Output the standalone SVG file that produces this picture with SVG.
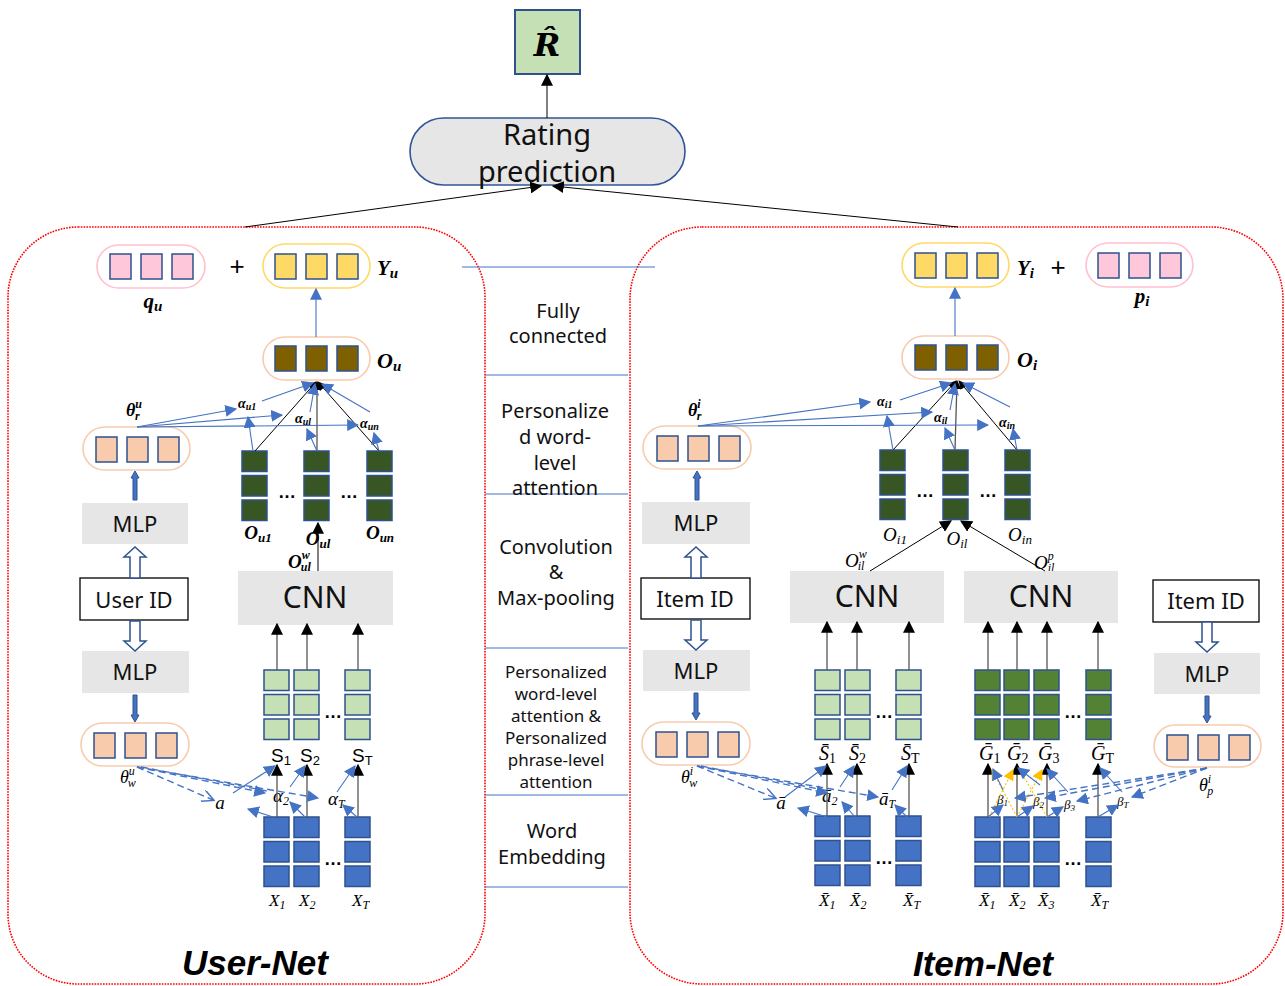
<svg xmlns="http://www.w3.org/2000/svg" xmlns:xlink="http://www.w3.org/1999/xlink" width="1285" height="986" viewBox="0 0 1285 986">
<style>
.sq{stroke:#2f528f;stroke-width:1.5}
.pill{fill:#fff;stroke-width:1.6}
.gray{fill:#e7e6e6}
.t{font-family:"Noto Sans","Open Sans",sans-serif;fill:#111}
.m{font-family:"Liberation Serif","DejaVu Serif",serif;font-style:italic;font-weight:bold;fill:#000}
.mr{font-family:"Liberation Serif","DejaVu Serif",serif;font-style:italic;fill:#000}
.s{font-family:"Liberation Sans",Arial,sans-serif;fill:#000}
.bl{stroke:#4472c4;stroke-width:1.1;fill:none}
.bk{stroke:#000;stroke-width:1;fill:none}
.gk{stroke:#555;stroke-width:1.3;fill:none}
.ds{stroke:#4472c4;stroke-width:1.4;fill:none;stroke-dasharray:7 4}
.yd{stroke:#ffc000;stroke-width:1.1;fill:none;stroke-dasharray:2 2}
.sep{stroke:#4472c4;stroke-width:1}
.red{fill:none;stroke:#ff0000;stroke-width:1.6;stroke-dasharray:1.6 1.2}
.dots{font-family:"Liberation Sans",sans-serif;font-weight:bold;font-size:18px;fill:#000}
.ba{fill:#4472c4;stroke:#2f528f;stroke-width:1}
.ha{fill:#fff;stroke:#2f528f;stroke-width:1.5}
</style>
<defs>
<marker id="ak" viewBox="0 0 10 10" refX="9" refY="5" markerWidth="9" markerHeight="9" markerUnits="userSpaceOnUse" orient="auto"><path d="M0,0 L10,5 L0,10 z" fill="#000"/></marker>
<marker id="akb" viewBox="0 0 10 10" refX="9" refY="5" markerWidth="12" markerHeight="12" markerUnits="userSpaceOnUse" orient="auto"><path d="M0,0 L10,5 L0,10 z" fill="#000"/></marker>
<marker id="ab" viewBox="0 0 10 10" refX="9" refY="5" markerWidth="12" markerHeight="12" markerUnits="userSpaceOnUse" orient="auto"><path d="M0,0 L10,5 L0,10 z" fill="#4472c4"/></marker>
<marker id="ao" viewBox="0 0 10 10" refX="9" refY="5" markerWidth="14" markerHeight="12" markerUnits="userSpaceOnUse" orient="auto"><path d="M0,0 L10,5 L0,10" fill="none" stroke="#4472c4" stroke-width="1.2"/></marker>
<marker id="ay" viewBox="0 0 10 10" refX="9" refY="5" markerWidth="11" markerHeight="11" markerUnits="userSpaceOnUse" orient="auto"><path d="M0,0 L10,5 L0,10 z" fill="#ffc000"/></marker>
<g id="col"><rect class="sq" x="0" y="0" width="25" height="20.5"/><rect class="sq" x="0" y="24.5" width="25" height="20.5"/><rect class="sq" x="0" y="49" width="25" height="20.5"/></g>
<g id="vec"><rect class="sq" x="0" y="0" width="21" height="25"/><rect class="sq" x="31" y="0" width="21" height="25"/><rect class="sq" x="62" y="0" width="21" height="25"/></g>
</defs>

<!-- containers -->
<rect class="red" x="8" y="227" width="477" height="757" rx="70" ry="70"/>
<rect class="red" x="630" y="227" width="653" height="757" rx="72" ry="72"/>
<g id="separators">
<line class="sep" x1="462" y1="267" x2="655" y2="267"/>
<line class="sep" x1="485" y1="375" x2="628" y2="375"/>
<line class="sep" x1="485" y1="494" x2="628" y2="494"/>
<line class="sep" x1="485" y1="648" x2="628" y2="648"/>
<line class="sep" x1="485" y1="795" x2="628" y2="795"/>
<line class="sep" x1="485" y1="887" x2="628" y2="887"/>
</g>
<g id="layer-labels" class="t" text-anchor="middle">
<text x="558" y="318" font-size="20">Fully</text>
<text x="558" y="343" font-size="20">connected</text>
<text x="555" y="418" font-size="20">Personalize</text>
<text x="555" y="444" font-size="20">d word-</text>
<text x="555" y="470" font-size="20">level</text>
<text x="555" y="495" font-size="20">attention</text>
<text x="556" y="554" font-size="20">Convolution</text>
<text x="556" y="579" font-size="20">&amp;</text>
<text x="556" y="605" font-size="20">Max-pooling</text>
<text x="556" y="678" font-size="17">Personalized</text>
<text x="556" y="700" font-size="17">word-level</text>
<text x="556" y="722" font-size="17">attention &amp;</text>
<text x="556" y="744" font-size="17">Personalized</text>
<text x="556" y="766" font-size="17">phrase-level</text>
<text x="556" y="788" font-size="17">attention</text>
<text x="552" y="838" font-size="20">Word</text>
<text x="552" y="864" font-size="20">Embedding</text>
</g>

<!-- top -->
<g id="rhat">
<rect x="515" y="10" width="65" height="64" fill="#c5e0b4" stroke="#2f528f" stroke-width="2"/>
<text x="547" y="56" text-anchor="middle" font-family="DejaVu Serif,serif" font-style="italic" font-weight="bold" font-size="32">R̂</text>
</g>
<g id="rating">
<rect x="410" y="118" width="275" height="67" rx="33.5" fill="#e7e6e6" stroke="#2f5597" stroke-width="1.6"/>
<text class="t" x="547" y="145" text-anchor="middle" font-size="29">Rating</text>
<text class="t" x="547" y="182" text-anchor="middle" font-size="29">prediction</text>
</g>

<!-- USER NET -->
<g id="qu"><rect class="pill" x="97" y="245" width="108" height="43" rx="21.5" stroke="#ffc0d0"/><use href="#vec" x="110" y="254" fill="#ffc7da"/></g>
<text class="m" x="153" y="308" text-anchor="middle" font-size="21">q<tspan font-size="15" dy="3">u</tspan></text>
<text class="s" x="237" y="275" text-anchor="middle" font-size="26">+</text>
<g id="Yu"><rect class="pill" x="263" y="244" width="107" height="44" rx="22" stroke="#ffd966"/><use href="#vec" x="275" y="254" fill="#ffd966"/></g>
<text class="m" x="377" y="275" font-size="21">Y<tspan font-size="15" dy="3">u</tspan></text>
<text class="m" x="377" y="368" font-size="22">O<tspan font-size="15" dy="3">u</tspan></text>
<g id="Ou"><rect class="pill" x="263" y="337" width="107" height="43" rx="21.5" stroke="#f8cbad"/><use href="#vec" x="275" y="346" fill="#7f6000"/></g>
<text class="m" x="126" y="416" font-size="18">θ<tspan font-size="12" dy="-8">u</tspan><tspan font-size="12" dx="-7" dy="12">r</tspan></text>
<g id="thr-u"><rect class="pill" x="83" y="427" width="107" height="43" rx="21.5" stroke="#f8cbad"/><use href="#vec" x="96" y="437" fill="#f8cbad"/></g>
<g id="mlp-u1"><rect class="gray" x="82" y="503" width="106" height="41"/><text class="t" x="135" y="532" text-anchor="middle" font-size="22">MLP</text></g>
<g id="userid"><rect x="80" y="578" width="108" height="42" fill="#fff" stroke="#000" stroke-width="1.3"/><text class="t" x="134" y="608" text-anchor="middle" font-size="22">User ID</text></g>
<g id="mlp-u2"><rect class="gray" x="82" y="651" width="107" height="42"/><text class="t" x="135" y="680" text-anchor="middle" font-size="22">MLP</text></g>
<g id="thw-u"><rect class="pill" x="81" y="723" width="108" height="43" rx="21.5" stroke="#f8cbad"/><use href="#vec" x="94" y="733" fill="#f8cbad"/></g>
<text class="mr" x="120" y="783" font-size="18">θ<tspan font-size="12" dy="-8">u</tspan><tspan font-size="12" dx="-7" dy="12">w</tspan></text>

<g id="Ocols-u">
<use href="#col" x="242" y="451" fill="#375623"/>
<use href="#col" x="304" y="451" fill="#375623"/>
<use href="#col" x="367" y="451" fill="#375623"/>
<text class="dots" x="287" y="498" text-anchor="middle">…</text>
<text class="dots" x="349" y="498" text-anchor="middle">…</text>
</g>
<text class="m" x="258" y="539" text-anchor="middle" font-size="19">O<tspan font-size="13" dy="3">u1</tspan></text>
<text class="m" x="318" y="545" text-anchor="middle" font-size="19">O<tspan font-size="13" dy="3">ul</tspan></text>
<text class="m" x="380" y="539" text-anchor="middle" font-size="19">O<tspan font-size="13" dy="3">un</tspan></text>
<text class="m" x="288" y="568" font-size="19">O<tspan font-size="12" dy="-9">w</tspan><tspan font-size="12" dx="-9" dy="12">ul</tspan></text>
<text class="m" x="238" y="408" font-size="14">α<tspan font-size="10" dy="2">u1</tspan></text>
<text class="m" x="295" y="423" font-size="14">α<tspan font-size="10" dy="2">ul</tspan></text>
<text class="m" x="360" y="428" font-size="14">α<tspan font-size="10" dy="2">un</tspan></text>

<g id="cnn-u"><rect class="gray" x="238" y="571" width="155" height="54"/><text class="t" x="315" y="608" text-anchor="middle" font-size="30">CNN</text></g>
<g id="Scols-u">
<use href="#col" x="264" y="670" fill="#c5e0b4"/>
<use href="#col" x="294" y="670" fill="#c5e0b4"/>
<use href="#col" x="345" y="670" fill="#c5e0b4"/>
<text class="dots" x="333" y="718" text-anchor="middle">…</text>
</g>
<text class="s" x="271" y="762" font-size="19">S<tspan font-size="13" dy="3">1</tspan></text>
<text class="s" x="300" y="762" font-size="19">S<tspan font-size="13" dy="3">2</tspan></text>
<text class="s" x="352" y="762" font-size="19">S<tspan font-size="13" dy="3">T</tspan></text>
<g id="Xcols-u">
<use href="#col" x="264" y="817" fill="#4472c4"/>
<use href="#col" x="294" y="817" fill="#4472c4"/>
<use href="#col" x="345" y="817" fill="#4472c4"/>
<text class="dots" x="333" y="865" text-anchor="middle">…</text>
</g>
<text class="mr" x="269" y="906" font-size="17">X<tspan font-size="12" dy="3">1</tspan></text>
<text class="mr" x="299" y="906" font-size="17">X<tspan font-size="12" dy="3">2</tspan></text>
<text class="mr" x="352" y="906" font-size="17">X<tspan font-size="12" dy="3">T</tspan></text>
<text class="mr" x="220" y="809" text-anchor="middle" font-size="19">a</text>
<text class="mr" x="273" y="802" font-size="19">α<tspan font-size="12" dy="3">2</tspan></text>
<text class="mr" x="328" y="805" font-size="19">α<tspan font-size="12" dy="3">T</tspan></text>

<!-- ITEM NET -->
<g id="Yi"><rect class="pill" x="902" y="243" width="107" height="44" rx="22" stroke="#ffd966"/><use href="#vec" x="915" y="253" fill="#ffd966"/></g>
<text class="m" x="1017" y="275" font-size="21">Y<tspan font-size="15" dy="3">i</tspan></text>
<text class="s" x="1058" y="276" text-anchor="middle" font-size="26">+</text>
<g id="pi"><rect class="pill" x="1086" y="243" width="107" height="44" rx="22" stroke="#ffc0d0"/><use href="#vec" x="1098" y="253" fill="#ffc7da"/></g>
<text class="m" x="1142" y="303" text-anchor="middle" font-size="21">p<tspan font-size="15" dy="3">i</tspan></text>
<g id="Oi"><rect class="pill" x="902" y="336" width="107" height="43" rx="21.5" stroke="#f8cbad"/><use href="#vec" x="915" y="345" fill="#7f6000"/></g>
<text class="m" x="1017" y="367" font-size="22">O<tspan font-size="15" dy="3">i</tspan></text>
<text class="m" x="688" y="416" font-size="18">θ<tspan font-size="12" dy="-8">i</tspan><tspan font-size="12" dx="-4" dy="12">r</tspan></text>
<g id="thr-i"><rect class="pill" x="643" y="426" width="108" height="43" rx="21.5" stroke="#f8cbad"/><use href="#vec" x="657" y="436" fill="#f8cbad"/></g>
<g id="mlp-i1"><rect class="gray" x="642" y="502" width="108" height="42"/><text class="t" x="696" y="531" text-anchor="middle" font-size="22">MLP</text></g>
<g id="itemid1"><rect x="641" y="578" width="109" height="41" fill="#fff" stroke="#000" stroke-width="1.3"/><text class="t" x="695" y="607" text-anchor="middle" font-size="22">Item ID</text></g>
<g id="mlp-i2"><rect class="gray" x="643" y="650" width="107" height="41"/><text class="t" x="696" y="679" text-anchor="middle" font-size="22">MLP</text></g>
<g id="thw-i"><rect class="pill" x="642" y="722" width="108" height="43" rx="21.5" stroke="#f8cbad"/><use href="#vec" x="656" y="732" fill="#f8cbad"/></g>
<text class="mr" x="681" y="783" font-size="18">θ<tspan font-size="12" dy="-8">i</tspan><tspan font-size="12" dx="-4" dy="12">w</tspan></text>

<g id="Ocols-i">
<use href="#col" x="880" y="450" fill="#375623"/>
<use href="#col" x="943" y="450" fill="#375623"/>
<use href="#col" x="1005" y="450" fill="#375623"/>
<text class="dots" x="925" y="497" text-anchor="middle">…</text>
<text class="dots" x="988" y="497" text-anchor="middle">…</text>
</g>
<text class="mr" x="895" y="541" text-anchor="middle" font-size="19">O<tspan font-size="13" dy="3">i1</tspan></text>
<text class="mr" x="957" y="545" text-anchor="middle" font-size="19">O<tspan font-size="13" dy="3">il</tspan></text>
<text class="mr" x="1020" y="541" text-anchor="middle" font-size="19">O<tspan font-size="13" dy="3">in</tspan></text>
<text class="mr" x="845" y="567" font-size="19">O<tspan font-size="12" dy="-9">w</tspan><tspan font-size="12" dx="-9" dy="12">il</tspan></text>
<text class="mr" x="1034" y="569" font-size="19">O<tspan font-size="12" dy="-9">p</tspan><tspan font-size="12" dx="-6" dy="12">il</tspan></text>
<text class="m" x="877" y="406" font-size="14">α<tspan font-size="10" dy="2">i1</tspan></text>
<text class="m" x="934" y="422" font-size="14">α<tspan font-size="10" dy="2">il</tspan></text>
<text class="m" x="999" y="427" font-size="14">α<tspan font-size="10" dy="2">in</tspan></text>

<g id="cnn-i1"><rect class="gray" x="790" y="571" width="154" height="52"/><text class="t" x="867" y="607" text-anchor="middle" font-size="30">CNN</text></g>
<g id="cnn-i2"><rect class="gray" x="964" y="571" width="154" height="52"/><text class="t" x="1041" y="607" text-anchor="middle" font-size="30">CNN</text></g>

<g id="Scols-i">
<use href="#col" x="815" y="670" fill="#c5e0b4"/>
<use href="#col" x="845" y="670" fill="#c5e0b4"/>
<use href="#col" x="896" y="670" fill="#c5e0b4"/>
<text class="dots" x="884" y="718" text-anchor="middle">…</text>
</g>
<text class="mr" x="819" y="760" font-size="20">S̄<tspan font-style="normal" font-size="14" dy="3">1</tspan></text>
<text class="mr" x="849" y="760" font-size="20">S̄<tspan font-style="normal" font-size="14" dy="3">2</tspan></text>
<text class="mr" x="901" y="760" font-size="20">S̄<tspan font-style="normal" font-size="14" dy="3">T</tspan></text>
<g id="Xcols-i1">
<use href="#col" x="815" y="816" fill="#4472c4"/>
<use href="#col" x="845" y="816" fill="#4472c4"/>
<use href="#col" x="896" y="816" fill="#4472c4"/>
<text class="dots" x="884" y="864" text-anchor="middle">…</text>
</g>
<text class="mr" x="819" y="906" font-size="17">X̄<tspan font-size="12" dy="3">1</tspan></text>
<text class="mr" x="850" y="906" font-size="17">X̄<tspan font-size="12" dy="3">2</tspan></text>
<text class="mr" x="903" y="906" font-size="17">X̄<tspan font-size="12" dy="3">T</tspan></text>
<text class="mr" x="781" y="809" text-anchor="middle" font-size="19">ā</text>
<text class="mr" x="822" y="802" font-size="19">ā<tspan font-size="12" dy="3">2</tspan></text>
<text class="mr" x="879" y="805" font-size="19">ā<tspan font-size="12" dy="3">T</tspan></text>

<g id="Gcols">
<use href="#col" x="975" y="670" fill="#548235"/>
<use href="#col" x="1004" y="670" fill="#548235"/>
<use href="#col" x="1034" y="670" fill="#548235"/>
<use href="#col" x="1086" y="670" fill="#548235"/>
<text class="dots" x="1073" y="718" text-anchor="middle">…</text>
</g>
<text class="mr" x="979" y="760" font-size="20">Ḡ<tspan font-style="normal" font-size="14" dy="3">1</tspan></text>
<text class="mr" x="1007" y="760" font-size="20">Ḡ<tspan font-style="normal" font-size="14" dy="3">2</tspan></text>
<text class="mr" x="1038" y="760" font-size="20">Ḡ<tspan font-style="normal" font-size="14" dy="3">3</tspan></text>
<text class="mr" x="1091" y="760" font-size="20">Ḡ<tspan font-style="normal" font-size="14" dy="3">T</tspan></text>
<g id="Xcols-i2">
<use href="#col" x="975" y="817" fill="#4472c4"/>
<use href="#col" x="1004" y="817" fill="#4472c4"/>
<use href="#col" x="1034" y="817" fill="#4472c4"/>
<use href="#col" x="1086" y="817" fill="#4472c4"/>
<text class="dots" x="1073" y="865" text-anchor="middle">…</text>
</g>
<text class="mr" x="979" y="906" font-size="17">X̄<tspan font-size="12" dy="3">1</tspan></text>
<text class="mr" x="1009" y="906" font-size="17">X̄<tspan font-size="12" dy="3">2</tspan></text>
<text class="mr" x="1038" y="906" font-size="17">X̄<tspan font-size="12" dy="3">3</tspan></text>
<text class="mr" x="1091" y="906" font-size="17">X̄<tspan font-size="12" dy="3">T</tspan></text>
<text class="mr" x="997" y="804" font-size="13">β<tspan font-size="9" dy="2">1</tspan></text>
<text class="mr" x="1033" y="806" font-size="13">β<tspan font-size="9" dy="2">2</tspan></text>
<text class="mr" x="1064" y="809" font-size="13">β<tspan font-size="9" dy="2">3</tspan></text>
<text class="mr" x="1117" y="806" font-size="13">β<tspan font-size="9" dy="2">T</tspan></text>

<g id="itemid2"><rect x="1153" y="580" width="106" height="42" fill="#fff" stroke="#000" stroke-width="1.3"/><text class="t" x="1206" y="609" text-anchor="middle" font-size="22">Item ID</text></g>
<g id="mlp-i3"><rect class="gray" x="1154" y="653" width="106" height="41"/><text class="t" x="1207" y="682" text-anchor="middle" font-size="22">MLP</text></g>
<g id="thp-i"><rect class="pill" x="1154" y="725" width="107" height="42" rx="21" stroke="#f8cbad"/><use href="#vec" x="1167" y="735" fill="#f8cbad"/></g>
<text class="mr" x="1199" y="791" font-size="18">θ<tspan font-size="12" dy="-8">i</tspan><tspan font-size="12" dx="-4" dy="12">p</tspan></text>

<text x="255" y="975" text-anchor="middle" font-family="Liberation Sans,Arial,sans-serif" font-weight="bold" font-style="italic" font-size="35">User-Net</text>
<text x="983" y="976" text-anchor="middle" font-family="Liberation Sans,Arial,sans-serif" font-weight="bold" font-style="italic" font-size="35">Item-Net</text>

<!-- connectors -->
<g id="connectors">
<line class="bk" x1="547" y1="118" x2="547" y2="75" marker-end="url(#akb)"/>
<line class="bk" x1="245" y1="227" x2="541" y2="186" stroke-width="1.5" marker-end="url(#akb)"/>
<line class="bk" x1="958" y1="227" x2="553" y2="186" stroke-width="1.5" marker-end="url(#akb)"/>

<!-- user top -->
<line class="bl" x1="316" y1="337" x2="316" y2="289" marker-end="url(#ab)"/>
<line class="bk" x1="255" y1="451" x2="316" y2="382" marker-end="url(#ak)"/>
<line class="gk" x1="317" y1="451" x2="317" y2="382" marker-end="url(#ak)"/>
<line class="bk" x1="379" y1="451" x2="318" y2="382" marker-end="url(#ak)"/>
<line class="bl" x1="137" y1="427" x2="236" y2="409" marker-end="url(#ab)"/>
<line class="bl" x1="137" y1="427" x2="282" y2="415" marker-end="url(#ab)"/>
<line class="bl" x1="137" y1="427" x2="358" y2="425" marker-end="url(#ab)"/>
<line class="bl" x1="262" y1="401" x2="313" y2="383" marker-end="url(#ab)"/>
<line class="bl" x1="310" y1="412" x2="315" y2="384" marker-end="url(#ab)"/>
<line class="bl" x1="370" y1="412" x2="322" y2="384" marker-end="url(#ab)"/>
<line class="bl" x1="253" y1="451" x2="248" y2="417" marker-end="url(#ab)"/>
<line class="bl" x1="317" y1="451" x2="307" y2="429" marker-end="url(#ab)"/>
<line class="bl" x1="379" y1="451" x2="374" y2="433" marker-end="url(#ab)"/>
<line class="bk" x1="318" y1="571" x2="318" y2="523" marker-end="url(#akb)"/>
<path class="ba" d="M133,500 V478 H131 L135,471 L139,478 H137 V500 Z"/>
<path class="ha" d="M130,578 V557 H124 L135,547 L146,557 H140 V578 Z"/>
<path class="ha" d="M130,621 V641 H124 L135,651 L146,641 H140 V621 Z"/>
<path class="ba" d="M133,695 V715 H131 L135,722 L139,715 H137 V695 Z"/>

<!-- user bottom -->
<line class="gk" x1="277" y1="670" x2="277" y2="624" marker-end="url(#akb)"/>
<line class="gk" x1="307" y1="670" x2="307" y2="624" marker-end="url(#akb)"/>
<line class="gk" x1="358" y1="670" x2="358" y2="624" marker-end="url(#akb)"/>
<line class="gk" x1="277" y1="817" x2="277" y2="765" marker-end="url(#akb)"/>
<line class="gk" x1="307" y1="817" x2="307" y2="765" marker-end="url(#akb)"/>
<line class="gk" x1="358" y1="817" x2="358" y2="765" marker-end="url(#akb)"/>
<line class="ds" x1="137" y1="767" x2="213" y2="800" marker-end="url(#ao)"/>
<line class="ds" x1="137" y1="767" x2="265" y2="793" marker-end="url(#ab)"/>
<line class="ds" x1="141" y1="767" x2="267" y2="791"/>
<line class="ds" x1="137" y1="767" x2="318" y2="798" marker-end="url(#ab)"/>
<line class="bl" x1="233" y1="793" x2="275" y2="766" marker-end="url(#ab)"/>
<line class="bl" x1="290" y1="787" x2="305" y2="766" marker-end="url(#ab)"/>
<line class="bl" x1="337" y1="792" x2="355" y2="766" marker-end="url(#ab)"/>
<line class="bl" x1="273" y1="817" x2="248" y2="809" stroke-width="1.5" marker-end="url(#ab)"/>
<line class="bl" x1="305" y1="817" x2="290" y2="802" marker-end="url(#ab)"/>
<line class="bl" x1="357" y1="817" x2="343" y2="805" marker-end="url(#ab)"/>

<!-- item top -->
<line class="bl" x1="955" y1="336" x2="955" y2="288" marker-end="url(#ab)"/>
<line class="bk" x1="893" y1="450" x2="956" y2="381" marker-end="url(#ak)"/>
<line class="gk" x1="955" y1="450" x2="957" y2="381" marker-end="url(#ak)"/>
<line class="bk" x1="1017" y1="450" x2="959" y2="381" marker-end="url(#ak)"/>
<line class="bl" x1="698" y1="426" x2="870" y2="402" marker-end="url(#ab)"/>
<line class="bl" x1="698" y1="426" x2="932" y2="412" marker-end="url(#ab)"/>
<line class="bl" x1="698" y1="426" x2="988" y2="425" marker-end="url(#ab)"/>
<line class="bl" x1="900" y1="400" x2="951" y2="383" marker-end="url(#ab)"/>
<line class="bl" x1="950" y1="410" x2="955" y2="384" marker-end="url(#ab)"/>
<line class="bl" x1="1010" y1="407" x2="963" y2="383" marker-end="url(#ab)"/>
<line class="bl" x1="893" y1="450" x2="887" y2="416" marker-end="url(#ab)"/>
<line class="bl" x1="955" y1="450" x2="945" y2="428" marker-end="url(#ab)"/>
<line class="bl" x1="1017" y1="450" x2="1013" y2="429" marker-end="url(#ab)"/>
<line class="bk" x1="870" y1="571" x2="951" y2="521" marker-end="url(#akb)"/>
<line class="bk" x1="1045" y1="571" x2="961" y2="521" marker-end="url(#akb)"/>
<path class="ba" d="M695,500 V478 H693 L697,471 L701,478 H699 V500 Z"/>
<path class="ha" d="M691,578 V557 H685 L696,547 L707,557 H701 V578 Z"/>
<path class="ha" d="M691,620 V640 H685 L696,650 L707,640 H701 V620 Z"/>
<path class="ba" d="M694,693 V713 H692 L696,720 L700,713 H698 V693 Z"/>
<path class="ha" d="M1202,622 V642 H1196 L1207,652 L1218,642 H1212 V622 Z"/>
<path class="ba" d="M1205,696 V716 H1203 L1207,723 L1211,716 H1209 V696 Z"/>

<!-- item bottom -->
<line class="gk" x1="827" y1="670" x2="827" y2="622" marker-end="url(#akb)"/>
<line class="gk" x1="857" y1="670" x2="857" y2="622" marker-end="url(#akb)"/>
<line class="gk" x1="909" y1="670" x2="909" y2="622" marker-end="url(#akb)"/>
<line class="gk" x1="827" y1="816" x2="827" y2="764" marker-end="url(#akb)"/>
<line class="gk" x1="857" y1="816" x2="857" y2="764" marker-end="url(#akb)"/>
<line class="gk" x1="909" y1="816" x2="909" y2="764" marker-end="url(#akb)"/>
<line class="ds" x1="697" y1="766" x2="775" y2="798" marker-end="url(#ao)"/>
<line class="ds" x1="697" y1="766" x2="827" y2="793" marker-end="url(#ab)"/>
<line class="ds" x1="701" y1="766" x2="829" y2="791"/>
<line class="ds" x1="697" y1="766" x2="878" y2="797" marker-end="url(#ab)"/>
<line class="bl" x1="785" y1="797" x2="826" y2="766" marker-end="url(#ab)"/>
<line class="bl" x1="840" y1="787" x2="854" y2="766" marker-end="url(#ab)"/>
<line class="bl" x1="892" y1="790" x2="907" y2="766" marker-end="url(#ab)"/>
<line class="bl" x1="827" y1="817" x2="798" y2="808" stroke-width="1.5" marker-end="url(#ab)"/>
<line class="bl" x1="855" y1="817" x2="842" y2="802" marker-end="url(#ab)"/>
<line class="bl" x1="907" y1="817" x2="895" y2="805" marker-end="url(#ab)"/>

<line class="gk" x1="988" y1="670" x2="988" y2="622" marker-end="url(#akb)"/>
<line class="gk" x1="1017" y1="670" x2="1017" y2="622" marker-end="url(#akb)"/>
<line class="gk" x1="1047" y1="670" x2="1047" y2="622" marker-end="url(#akb)"/>
<line class="gk" x1="1098" y1="670" x2="1098" y2="622" marker-end="url(#akb)"/>
<line class="gk" x1="988" y1="817" x2="988" y2="764" marker-end="url(#akb)"/>
<line class="gk" x1="1017" y1="817" x2="1017" y2="764" marker-end="url(#akb)"/>
<line class="gk" x1="1047" y1="817" x2="1047" y2="764" marker-end="url(#akb)"/>
<line class="gk" x1="1098" y1="817" x2="1098" y2="764" marker-end="url(#akb)"/>
<line class="yd" x1="989" y1="817" x2="1013" y2="770" marker-end="url(#ay)"/>
<line class="yd" x1="1017" y1="817" x2="992" y2="770" marker-end="url(#ay)"/>
<line class="yd" x1="1017" y1="817" x2="1042" y2="770" marker-end="url(#ay)"/>
<line class="yd" x1="1047" y1="817" x2="1020" y2="770"/>
<line class="ds" x1="1207" y1="768" x2="1015" y2="798" marker-end="url(#ab)"/>
<line class="ds" x1="1207" y1="768" x2="1045" y2="798" marker-end="url(#ab)"/>
<line class="ds" x1="1207" y1="768" x2="1077" y2="801" marker-end="url(#ab)"/>
<line class="ds" x1="1207" y1="768" x2="1132" y2="797" marker-end="url(#ab)"/>
<line class="bl" x1="988" y1="817" x2="1003" y2="805" marker-end="url(#ab)"/>
<line class="bl" x1="1017" y1="817" x2="1033" y2="806" marker-end="url(#ab)"/>
<line class="bl" x1="1047" y1="817" x2="1063" y2="807" marker-end="url(#ab)"/>
<line class="bl" x1="1098" y1="817" x2="1118" y2="805" marker-end="url(#ab)"/>
<line class="bl" x1="1003" y1="790" x2="993" y2="769" marker-end="url(#ab)"/>
<line class="bl" x1="1040" y1="785" x2="1018" y2="768" marker-end="url(#ab)"/>
<line class="bl" x1="1068" y1="792" x2="1047" y2="769" marker-end="url(#ab)"/>
<line class="bl" x1="1122" y1="792" x2="1100" y2="768" marker-end="url(#ab)"/>
</g>
</svg>
